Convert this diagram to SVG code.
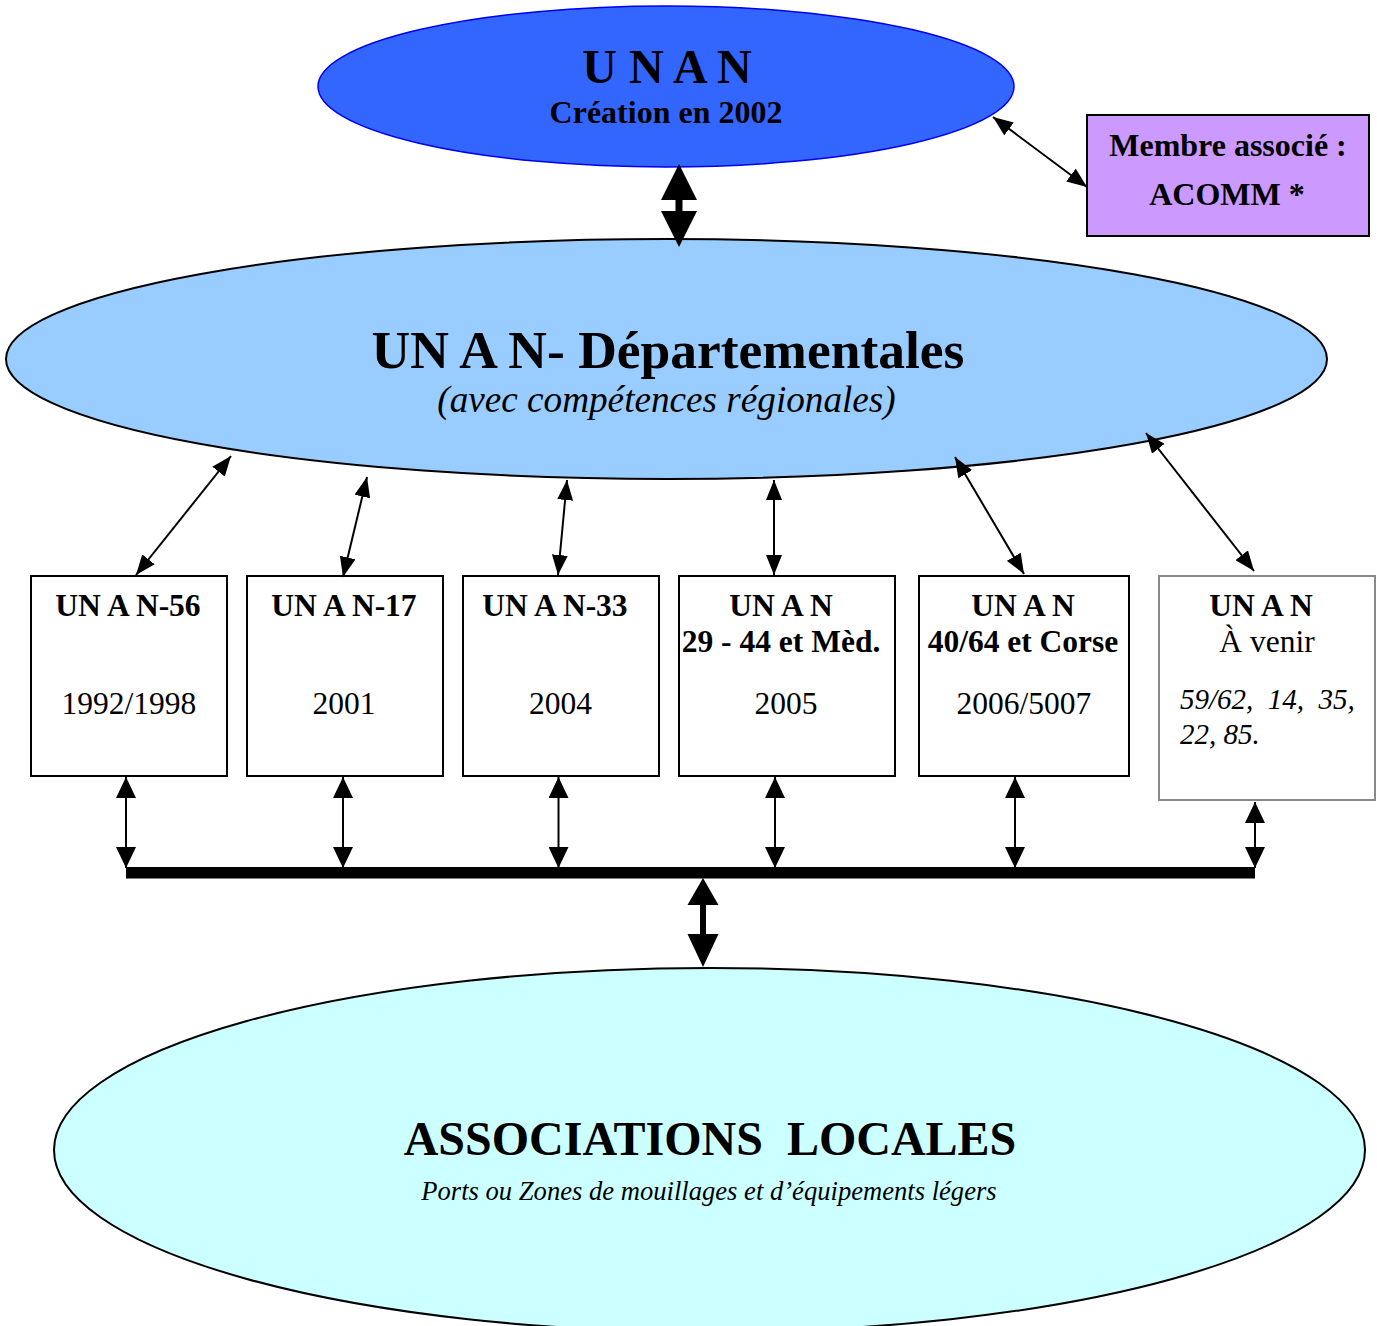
<svg xmlns="http://www.w3.org/2000/svg" width="1377" height="1326" viewBox="0 0 1377 1326">
<style>
text{font-family:"Liberation Serif","Times New Roman",serif;fill:#000;text-anchor:middle}
.b{font-weight:bold}
.i{font-style:italic}
.box{fill:#fff;stroke:#000;stroke-width:2}
.thin{stroke:#000;stroke-width:2;fill:none}
</style>
<defs>
<marker id="ah" viewBox="0 0 20 16" refX="20" refY="8" markerWidth="20" markerHeight="16" markerUnits="userSpaceOnUse" orient="auto-start-reverse">
<path d="M0,0 L20,8 L0,16 Z" fill="#000"/>
</marker>
<marker id="ahb" viewBox="0 0 21 20" refX="21" refY="10" markerWidth="21" markerHeight="20" markerUnits="userSpaceOnUse" orient="auto-start-reverse">
<path d="M0,0 L21,10 L0,20 Z" fill="#000"/>
</marker>
</defs>

<g id="unan">
<ellipse cx="666" cy="86.5" rx="348" ry="80.5" fill="#3366FF" stroke="#0000EE" stroke-width="1.5"/>
<text x="667" y="83" class="b" font-size="48">U N A N</text>
<text x="666" y="123" class="b" font-size="32">Création en 2002</text>
</g>

<g id="membre">
<rect x="1087" y="115" width="282" height="121" fill="#CC99FF" stroke="#000" stroke-width="2"/>
<text x="1228" y="156" class="b" font-size="32">Membre associé :</text>
<text x="1227" y="205" class="b" font-size="32">ACOMM *</text>
</g>

<g id="departementales">
<ellipse cx="666.5" cy="359" rx="660.5" ry="120" fill="#99CCFF" stroke="#000" stroke-width="2"/>
<text x="668" y="368" class="b" font-size="53.5">UN A N- Départementales</text>
<text x="666.5" y="412" class="i" font-size="37.2">(avec compétences régionales)</text>
</g>

<g id="n56">
<rect class="box" x="31" y="576" width="196" height="200"/>
<text x="128" y="616" class="b" font-size="31.5">UN A N-56</text>
<text x="129" y="714" font-size="31.5">1992/1998</text>
</g>
<g id="n17">
<rect class="box" x="247" y="576" width="196" height="200"/>
<text x="344" y="616" class="b" font-size="31.5">UN A N-17</text>
<text x="344" y="714" font-size="31.5">2001</text>
</g>
<g id="n33">
<rect class="box" x="463" y="576" width="196" height="200"/>
<text x="555" y="616" class="b" font-size="31.5">UN A N-33</text>
<text x="560.5" y="714" font-size="31.5">2004</text>
</g>
<g id="n29">
<rect class="box" x="679" y="576" width="216" height="200"/>
<text x="781" y="616" class="b" font-size="31.5">UN A N</text>
<text x="781" y="652" class="b" font-size="31.5">29 - 44 et Mèd.</text>
<text x="786" y="714" font-size="31.5">2005</text>
</g>
<g id="n40">
<rect class="box" x="919" y="576" width="210" height="200"/>
<text x="1023" y="616" class="b" font-size="31.5">UN A N</text>
<text x="1023" y="652" class="b" font-size="31.5">40/64 et Corse</text>
<text x="1024" y="714" font-size="31.5">2006/5007</text>
</g>
<g id="avenir">
<rect x="1159" y="576" width="216" height="224" fill="#fff" stroke="#888" stroke-width="2"/>
<text x="1261" y="616" class="b" font-size="31.5">UN A N</text>
<text x="1267" y="652" font-size="31.5">À venir</text>
<text x="1180" y="709" class="i" font-size="29" style="text-anchor:start;white-space:pre" xml:space="preserve">59/62,  14,  35,</text>
<text x="1180" y="744" class="i" font-size="29" style="text-anchor:start">22, 85.</text>
</g>

<g id="locales">
<ellipse cx="709.5" cy="1150" rx="655.5" ry="182" fill="#CCFFFF" stroke="#000" stroke-width="2"/>
<text x="710" y="1155" class="b" font-size="48" style="white-space:pre" xml:space="preserve">ASSOCIATIONS  LOCALES</text>
<text x="709" y="1200" class="i" font-size="26.6">Ports ou Zones de mouillages et d’équipements légers</text>
</g>

<g id="connectors">
<path d="M679,164 L697,200 L682.5,200 L682.5,211 L697,211 L679,247 L661,211 L675.5,211 L675.5,200 L661,200 Z" fill="#000"/>
<line class="thin" x1="993" y1="117" x2="1087" y2="187" marker-start="url(#ah)" marker-end="url(#ah)"/>
<line class="thin" x1="231" y1="456" x2="136" y2="575" marker-start="url(#ah)" marker-end="url(#ah)"/>
<line class="thin" x1="367" y1="477" x2="343" y2="577" marker-start="url(#ah)" marker-end="url(#ah)"/>
<line class="thin" x1="567" y1="480" x2="558" y2="575" marker-start="url(#ah)" marker-end="url(#ah)"/>
<line class="thin" x1="774" y1="480" x2="774" y2="575" marker-start="url(#ah)" marker-end="url(#ah)"/>
<line class="thin" x1="955" y1="457" x2="1024" y2="574" marker-start="url(#ah)" marker-end="url(#ah)"/>
<line class="thin" x1="1146" y1="433" x2="1254" y2="571" marker-start="url(#ah)" marker-end="url(#ah)"/>
<line class="thin" x1="126" y1="777" x2="126" y2="868" marker-start="url(#ahb)" marker-end="url(#ahb)"/>
<line class="thin" x1="343" y1="777" x2="343" y2="868" marker-start="url(#ahb)" marker-end="url(#ahb)"/>
<line class="thin" x1="558.5" y1="777" x2="558.5" y2="868" marker-start="url(#ahb)" marker-end="url(#ahb)"/>
<line class="thin" x1="775" y1="777" x2="775" y2="868" marker-start="url(#ahb)" marker-end="url(#ahb)"/>
<line class="thin" x1="1015" y1="777" x2="1015" y2="868" marker-start="url(#ahb)" marker-end="url(#ahb)"/>
<line class="thin" x1="1255" y1="802" x2="1255" y2="868" marker-start="url(#ahb)" marker-end="url(#ahb)"/>
<rect x="126" y="867" width="1129" height="11.5" fill="#000"/>
<path d="M703,878 L718.5,905 L706,905 L706,934 L718.5,934 L703,967 L687.5,934 L700,934 L700,905 L687.5,905 Z" fill="#000"/>
</g>
</svg>
